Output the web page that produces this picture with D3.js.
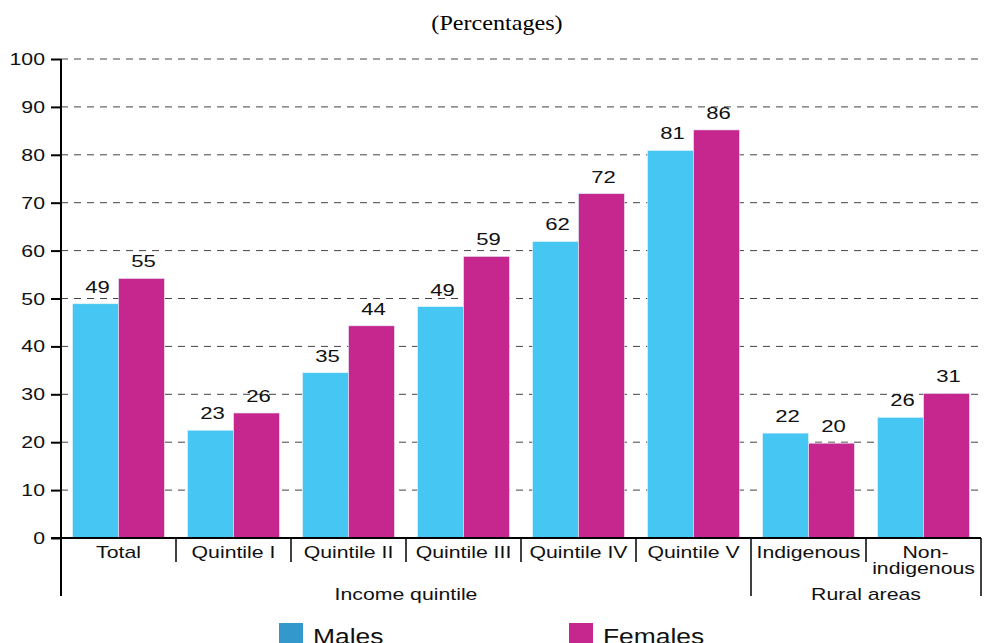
<!DOCTYPE html>
<html>
<head>
<meta charset="utf-8">
<script src="https://cdn.jsdelivr.net/npm/d3@7"></script>
<style>
  body { margin: 0; background: #fff; }
  svg { display: block; }
</style>
</head>
<body>
<svg id="chart" width="984" height="643"></svg>
<script>
// data
const categories = ["Total", "Quintile I", "Quintile II", "Quintile III", "Quintile IV", "Quintile V", "Indigenous", "Non-\nindigenous"];
const malesValues   = [48.9, 22.5, 34.5, 48.3, 61.9, 80.9, 21.9, 25.2];
const femalesValues = [54.2, 26.1, 44.3, 58.8, 71.9, 85.2, 19.8, 30.2];
const malesLabels   = ["49", "23", "35", "49", "62", "81", "22", "26"];
const femalesLabels = ["55", "26", "44", "59", "72", "86", "20", "31"];
const yTicks = [0, 10, 20, 30, 40, 50, 60, 70, 80, 90, 100];
const groups = [
	{ name: "Income quintile", from: 0, to: 6 },
	{ name: "Rural areas", from: 6, to: 8 }
];
const seriesNames = ["Males", "Females"];

const barColors    = ["#46c7f3", "#c6278e"];
const legendColors = ["#3399cc", "#c6278e"];

const svg = d3.select("#chart");
const plotLeft = 61, plotRight = 981, plotTop = 59, plotBottom = 538;
const sansFont = "'Liberation Sans', Arial, sans-serif";

const x = d3.scaleBand().domain(d3.range(categories.length)).range([plotLeft, plotRight]).paddingInner(0).paddingOuter(0);
const y = d3.scaleLinear().domain([0, 100]).range([plotBottom, plotTop]);
const xs = d3.scaleBand().domain([0, 1]).range([0, x.bandwidth()]).paddingOuter(0.25).paddingInner(0);

// the source font is drawn wider than it is tall, so stretch text horizontally
function wideText(parent, px, py, str, size, sx, anchor) {
	return parent.append("text")
		.attr("transform", `translate(${px},${py}) scale(${sx},1)`)
		.attr("text-anchor", anchor || "middle")
		.attr("font-family", sansFont)
		.attr("font-size", size)
		.attr("fill", "#111")
		.text(str);
}

// subtitle (title line above it is cut off in the source)
svg.append("text")
	.attr("transform", "translate(497,30) scale(1.15,1)")
	.attr("text-anchor", "middle")
	.attr("font-family", "'Liberation Serif', 'Times New Roman', serif")
	.attr("font-size", 21)
	.text("(Percentages)");

// grid
svg.append("g")
	.selectAll("line")
	.data(yTicks.filter(d => d > 0))
	.join("line")
	.attr("x1", plotLeft).attr("x2", 984)
	.attr("y1", d => y(d)).attr("y2", d => y(d))
	.attr("stroke", "#444")
	.attr("stroke-width", 1)
	.attr("stroke-dasharray", "7,6");

// bars
const series = [malesValues, femalesValues];
const labels = [malesLabels, femalesLabels];
series.forEach((vals, s) => {
	svg.append("g")
		.selectAll("rect")
		.data(vals)
		.join("rect")
		.attr("x", (d, i) => x(i) + xs(s))
		.attr("y", d => y(d))
		.attr("width", xs.bandwidth())
		.attr("height", d => y(0) - y(d))
		.attr("fill", barColors[s])
		.attr("stroke", "#e8f4fa")
		.attr("stroke-width", 0.6);

	const lg = svg.append("g");
	vals.forEach((d, i) => {
		wideText(lg, x(i) + xs(s) + xs.bandwidth() / 2 + 2, y(d) - 11, labels[s][i], 17, 1.3);
	});
});

// y axis
const yAxis = d3.axisLeft(y).tickValues(yTicks).tickSize(10).tickPadding(0).tickFormat("");
const gy = svg.append("g").attr("transform", `translate(${plotLeft},0)`).call(yAxis);
gy.select(".domain").remove();
gy.selectAll(".tick line").attr("stroke", "#000").attr("stroke-width", 2);
const tickG = svg.append("g");
yTicks.forEach(t => wideText(tickG, 45, y(t) + 6, String(t), 17, 1.25, "end"));

svg.append("line")
	.attr("x1", plotLeft).attr("x2", plotLeft)
	.attr("y1", plotTop).attr("y2", 596)
	.attr("stroke", "#000").attr("stroke-width", 2);

// x axis base line
svg.append("line")
	.attr("x1", plotLeft - 10).attr("x2", plotRight)
	.attr("y1", plotBottom).attr("y2", plotBottom)
	.attr("stroke", "#000").attr("stroke-width", 2);

// category separators
const groupEdges = groups.map(g => g.to);
d3.range(1, categories.length + 1).forEach(i => {
	const xe = i < categories.length ? x(i) : plotRight;
	const major = groupEdges.includes(i);
	svg.append("line")
		.attr("x1", xe).attr("x2", xe)
		.attr("y1", plotBottom).attr("y2", major ? 596 : 562)
		.attr("stroke", "#000").attr("stroke-width", 1.5);
});

// category labels
const catG = svg.append("g");
categories.forEach((c, i) => {
	const lines = c.split("\n");
	const cx = x(i) + x.bandwidth() / 2;
	if (lines.length > 1) {
		wideText(catG, cx + 2, 558, lines[0], 17, 1.25);
		wideText(catG, cx, 574, lines[1], 17, 1.25);
	} else {
		wideText(catG, cx, 558, c, 17, 1.25);
	}
});

// group labels
groups.forEach(g => {
	const x0 = x(g.from);
	const x1 = g.to < categories.length ? x(g.to) : plotRight;
	wideText(svg, (x0 + x1) / 2, 600, g.name, 17, 1.25);
});

// legend
const legendX = [279, 569];
seriesNames.forEach((name, s) => {
	svg.append("rect")
		.attr("x", legendX[s]).attr("y", 623)
		.attr("width", 24).attr("height", 24)
		.attr("fill", legendColors[s]);
	wideText(svg, legendX[s] + 34, 644, name, 22, 1.2, "start");
});
</script>
</body>
</html>
